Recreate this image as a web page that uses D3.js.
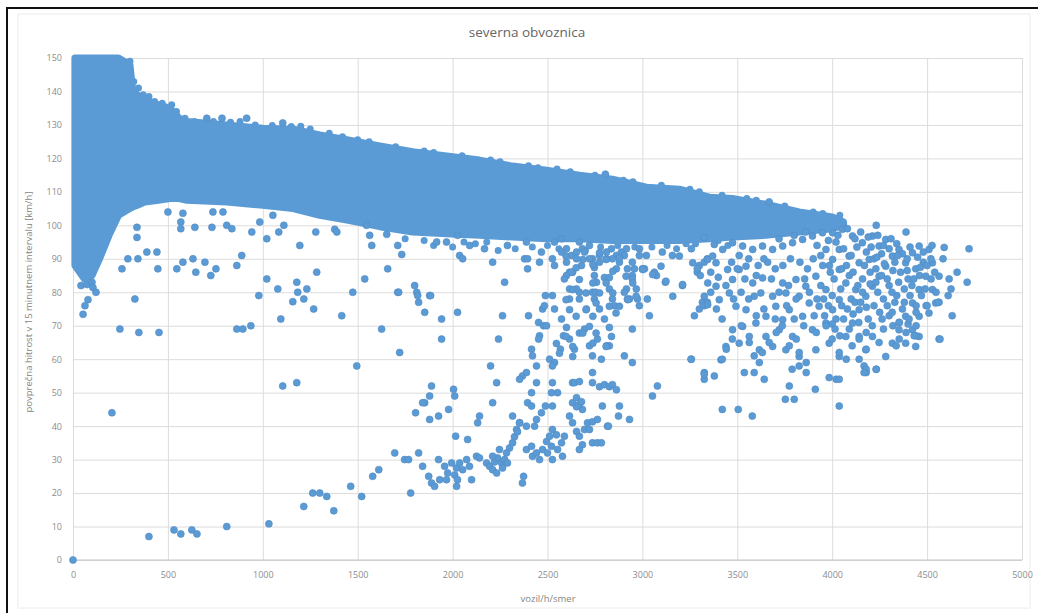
<!DOCTYPE html>
<html><head><meta charset="utf-8">
<script src="https://cdn.jsdelivr.net/npm/d3@7/dist/d3.min.js"></script>
<style>body{margin:0;background:#fff}svg{display:block}</style>
</head><body>
<svg id="c" width="1038" height="613"></svg>
<script>
const title = "severna obvoznica";
const xTitle = "vozil/h/smer";
const yTitle = "povprečna hitrost v 15 minutnem intervalu [km/h]";
const xTicks = [0,500,1000,1500,2000,2500,3000,3500,4000,4500,5000];
const yTicks = [0,10,20,30,40,50,60,70,80,90,100,110,120,130,140,150];

// envelope of the saturated (solid) core of the point cloud
const bandX     = [10, 60, 100, 140, 190, 240, 300, 315, 340, 380, 450, 510, 560, 600, 810, 1000, 1160, 1300, 1450, 1616, 1790, 1968, 2142, 2316, 2495, 2668, 2842, 3021, 3195, 3353, 3474, 3650, 3826, 4000, 4060];
const bandUpper = [150,150, 150, 150, 150, 150, 148, 140, 139, 137.5,136, 135, 132, 131, 130, 129, 128.7, 127, 125.5, 123.7, 122, 120.7, 119.5, 117.7, 116.5, 115, 113.8, 111.4, 110.8, 108.4, 108, 106.3, 104, 102.5, 101];
const bandLower = [88, 84, 85, 90, 97, 103, 105, 105.5, 106, 107, 107.5, 108, 108, 107.5, 107, 106, 105, 103, 101.5, 99.6, 98, 97.5, 97, 96.5, 96, 96, 95.5, 95.5, 95.5, 96, 96.5, 97, 98, 99, 100];

// points sticking out of the solid core's edges
const edgePoints = [[300,149],[320,143],[345,141],[370,139],[400,138.5],[430,137],[470,136.5],[520,136],[545,134],[590,132],[640,131],[690,130.5],[740,131],[830,130.8],[880,131],[960,130],[1050,129.8],[1150,129.5],[1200,129.6],[1250,128.8],[1350,127.5],[1420,126.5],[1500,125.6],[1560,125],[1700,123.5],[1850,122.2],[1900,121.8],[2050,120.8],[2200,119.5],[2250,119],[2400,117.8],[2450,117.2],[2550,116.8],[2620,116],[2750,115],[2900,113.5],[2950,113],[3100,112],[3250,110.8],[3300,110],[3420,109],[3550,108],[3600,107.5],[3750,105.8],[3900,104],[3950,103.5],[4040,103],
[1750,96],[1850,95.5],[1900,94],[2000,93.5],[2060,95],[2120,94.5],[2180,95],[2240,92.5],[2330,93],[2420,93.5],[2500,94],[2560,93],[2700,92.5],[2780,93.5],[2870,94],[2960,93.5],[3050,93.5],[3130,94],[3180,93],[3230,94.5],[3280,94.5],[3400,95.5],[3450,94]];

const leftPoints = [[42,82],[74,82.3],[100,83],[105,81.4],[121,80],[79,77.8],[63,76],[53,73.4],[326,78],[247,69],[347,68],[453,68],[205,44],[0,0],[400,7],[532,9],[568,7.8],[626,9],[653,7.8],[810,10],[1032,10.8],[863,69],[895,69],[937,70],[979,79],[1021,84],[1079,81],[1179,83],[1184,80],[1158,77.2],[1216,78],[1232,81],[1268,75],[1095,72],[1105,52],[1179,53],[1416,73],[1474,80],[1537,84],[1495,58],[1626,69],[1711,80],[1721,62],[1695,32],[1611,27],[1579,25],[1463,22],[1521,19],[1263,20],[1300,20],[1337,19],[1374,14.7],[1216,16],
[500,104],[579,103.6],[568,101],[568,99],[642,99.4],[732,99.4],[737,104],[790,104],[810,100],[837,99],[942,98],[984,101],[1053,103],[1084,98],[1111,100],[1021,96],[1195,94],[1279,98],[1379,98.8],[1390,98],[1547,100],[1563,97],[1574,94],[1653,97.3],[1658,87],[337,99.4],[337,96.4],[389,92],[442,92],[289,90],[342,90],[258,87],[447,87],[547,87],[579,89],[632,90],[647,86],[695,89],[753,87],[726,85],[863,88],[889,91],[1284,86],[705,132],[785,132],[915,132],[1105,130.6],[2805,115.3],[3668,107]];

const midPoints = [[1711,94],[1732,91.3],[1716,80],[1800,82],[1811,80],[1821,77],[1879,79],[1916,95],[1968,95],[2037,91],[2053,90],[2090,94],[2026,97],[2168,93],[2211,89],[2274,83],[2289,94],[2389,95],[2379,90],[2395,90],[2395,87],[2468,92],[2458,89],[2489,79],[2526,90],[2537,88],[2537,95],[2574,96],[2600,93],[2626,91],[2653,92],[2616,86],[2632,86],[2600,85],[2668,95],[2684,93],[2721,94],[2737,90],[2774,89],[2811,90],[2747,85],[2758,83],[2800,84.4],[2826,84.4],[2837,93],[2863,91],[2889,92],[2916,93],[2668,80],[2653,81],[2737,80],[2826,81],[2842,78],[2916,81],[2921,78],[2947,89],[2958,87],[2947,85],[3000,87],[3063,86],[3074,85],[2984,93],[3021,91],[3105,92],[3158,91],[3121,83],[3211,82],[3258,93],[3289,86],[3300,88],[3326,89],[3342,90],[3316,77],[3342,77],[2974,78],[2616,78],
[1816,79],[1853,74],[1884,79],[1942,72],[1942,66],[2026,74],[2263,73],[2400,73],[2242,66],[2474,75],[2453,71],[2479,70],[2495,70],[2458,67],[2453,66],[2416,63],[2421,61],[2442,58],[2511,60],[2537,59],[2526,58],[2368,55],[2353,54],[2389,56],[2200,58],[2232,53],[2442,53],[2526,53],[2416,50],[2395,47],[2416,46],[2521,50],[2553,50],[2489,46],[2526,46],[2468,44],[2442,42],[2432,40],[2389,40],[2353,41],[2337,39],[2316,43],[2211,47],[2142,43],[2132,41],[1889,52],[1879,49],[1853,47],[1842,47],[1805,44],[1926,43],[1879,42],[1979,45],[2005,51],[2011,49],[2016,37],[2079,36],[1747,30],[1768,30],[1821,32],[1842,28],[1926,30],[1874,25],[1889,23],[1905,22],[1779,20],
[1958,28],[1974,26],[1995,29],[2021,27.5],[2037,29],[2011,25.4],[2026,24],[2021,22],[2053,27],[2074,30],[2089,28],[2100,24],[2126,31],[2142,30.5],[1932,24],[1968,24],
[2179,29],[2195,28],[2211,27],[2221,29.3],[2237,30.5],[2258,29],[2263,27.5],[2232,26],[2284,32],[2300,33.5],[2316,35],[2326,36.8],[2342,38.3],[2353,41],[2274,30],[2289,29],[2247,33],[2211,31],[2374,25],[2368,23],
[2389,33],[2416,34],[2421,31],[2442,32],[2458,30],[2474,33],[2495,35.4],[2511,37],[2521,34],[2526,39],[2547,37.4],[2553,33],[2574,35],[2579,31],[2589,37],[2526,30],[2500,32],
[2616,43],[2632,41],[2653,38.4],[2668,37],[2684,34.4],[2668,33],[2695,39],[2711,41],[2737,35],[2763,35],[2784,35],[2721,39],[2737,41.3],[2763,42],[2816,40],[2684,45],[2668,46.4],[2632,47],[2653,45.8],[2632,53],[2642,53],[2668,53.3],[2653,48.5],[2679,47.3],[2737,53],[2774,51.8],[2800,52.4],[2826,51.8],[2842,52.4],[2863,50.9],[2789,46],[2879,46],[2874,43],[2932,42],[2821,40],[2737,56],[2784,60],[2826,64],[2811,64],[2905,61],[2947,59],[3053,49],[3079,52],[3258,60],[3326,56],[3326,54],[2947,69],[3037,73],[3274,73],[3300,75],[3326,76],[3289,87],[3305,85],
[2574,92],[2600,89],[2626,86],[2653,90],[2679,88],[2695,92],[2721,90],[2747,87.4],[2774,91],[2811,92],[2842,90],[2863,87],[2879,89],[2905,91],[2921,87],[2947,84],[2984,91],[3011,87],[2589,84],[2616,81],[2668,78],[2705,75],[2747,78],[2774,75],[2800,72],[2826,69.5],[2837,66.8],[2853,76],[2905,80],[2932,78],[2968,81],[2984,76],[3026,78],[2537,75],[2574,72],[2600,69.5],[2616,66],[2642,63],[2695,69],[2721,64],[2737,61],[2763,66],[2526,79],[2484,76],[2568,63],[2547,64.7],[2584,67],[2753,80],
[2598,90.8],[2651,87.3],[2686,89.8],[2739,88.3],[2774,91.8],[2809,89.8],[2844,86.3],[2879,90.3],[2914,84.8],[2949,82.8],[2967,78.8],[2923,77.8],[2844,79.8],[2826,75.8],[2861,73.8],[2756,76.8],[2739,72.8],[2703,74.8],[2721,69.8],[2756,67.8],[2739,64.8],[2809,63.8],[2668,67.8],[2633,63.8],[2598,66.8],[2563,61.8],[2633,60.8],[2686,67.8],[2651,72.8],[2616,74.8],[2598,77.8],[2633,80.8],[2668,83.8],[2703,79.8],[2774,79.8],[2739,82.8],[2809,82.8],[2879,75.8],
[3002,86.8],[3054,85.3],[3098,87.8],[3124,83.3],[3212,82.3],[3256,60],[3160,78.8],[3195,90.8],[3265,88.8]];

const rightPoints = [[3326,96.3],[3379,94.3],[3344,89.8],[3388,88.8],[3449,86.8],[3475,83.8],[3344,82.8],[3388,81.8],[3326,78.8],[3344,76.3],[3405,77.8],[3458,79.8],[3510,86.8],[3546,87.8],[3493,75.8],[3546,74.8],[3589,78.8],[3581,82.8],[3633,84.3],[3624,79.8],[3686,78.8],[3703,75.8],[3651,72.8],[3598,70.8],[3528,69.8],[3475,68.8],[3440,63.8],[3414,59.8],[3510,64.8],[3563,66.8],[3616,62.8],[3651,66.8],[3739,71.8],[3774,74.8],[3721,68.8],[3686,63.8],[3756,62.8],[3791,66.8],[3844,72.8],[3879,76.8],[3826,78.8],[3756,79.8],[3739,82.8],[3809,83.8],[3861,81.8],[3914,84.8],[3967,80.8],[3931,75.8],[3896,68.8],[3967,70.8],[4002,74.8],[4037,77.8],[3826,60.8],[3914,62.8],[3984,64.8],[4037,60.8],[4072,66.8],[4107,70.8],[4142,74.8],[4177,78.8],[4212,81.8],[4247,84.8],[4282,87.8],[4317,90.8],[4352,92.8],[4387,88.8],[4423,91.8],[4458,93.8],[4510,92.8],[4528,88.8],[4493,84.8],[4458,80.8],[4423,76.8],[4387,72.8],[4352,68.8],[4317,64.8],[4282,60.8],[4212,66.8],[4177,62.8],[4142,66.8],[4124,80.8],[4072,82.8],[4037,86.8],[4002,89.8],[3967,92.8],[4037,92.8],[4089,90.8],[4142,88.8],[4195,89.8],[4247,93.8],[4282,95.8],[4212,96.8],[4159,94.8],[4107,96.8],[4054,98.8],[4002,97.8],[3949,97.8],[3896,96.8],[3844,95.8],[3791,94.8],[3739,93.8],[3686,92.8],[3633,93.8],[3581,92.8],[3528,93.8],[3475,94.8],[3423,92.8],[3370,90.8],[4528,80.8],[4545,76.8],[4510,73.8],[4458,72.8],[4423,68.8],[4387,64.8],[4563,84.8],[4458,66.8],[4440,63.8],
[4020,95],[4060,93],[4100,91],[4130,93.5],[4180,92],[4220,90],[4260,91.5],[4300,93],[4330,89],[4360,86],[4400,84],[4440,87],[4480,89],[4050,87],[4090,85],[4160,84],[4200,86],[4240,80],[4270,78],[4300,82],[4340,79],[4380,81],[4410,79],[4100,78],[4060,72],[4000,79],[3950,88],[3900,90],[3870,87],[3830,89],[3780,90],[3740,88],[3700,87],[3660,89],[3610,88],[3560,90],[3510,91],[3470,89],[4250,74],[4190,72],[4320,70],[4400,70.5],[4470,79],[4500,88],
[3720,96],[3800,97],[3860,98],[3920,94],[3980,95.5],[4030,97],[4080,99],[4120,96],[4150,98],[4190,96.5],[4240,97],[4270,94],[4310,96],[4340,94.5],[4370,91.5],[4410,93.5],[4450,90.5],[4480,92],[4520,90],[4540,86],[3990,86],[3940,82],[3880,80],[3920,78],[3980,76],[4020,72],[4080,75],[4120,77],[4160,80],[4200,82.5],[4230,87],[4260,85],[4290,84],[4320,86.5],[4350,83],[4380,77],[4420,82],[4460,85],[4490,81],[4370,75],[4330,77],[4300,73],[4270,69],[4220,76],[4180,75.5],[4140,71],[4090,69],[4040,67],[4000,70.5],[3960,73],[3850,70],[3800,72],[3760,76],[3700,72],[3640,75],[3600,73],[3560,78],[3520,80],[3480,78],[3440,82],[3400,84.5],[3360,86],[3420,72],[3390,75],[3360,80],
[3940,91],[3985,88],[4010,84],[4045,81],[4075,88],[4110,86],[4135,82],[4170,88],[4205,93.5],[4235,90.5],[4275,88.5],[4315,80],[4345,91],[4395,90],[4430,84],[4465,87.5],[4395,86.5],[4290,76],[4230,83],[4150,77],[4110,73.5],[4050,76],[4015,69],[3955,78],[3905,73],[3855,84],[3810,78],[3770,82],[3720,80],[3680,84],[3640,90],[3600,85],[3540,84],[3500,87],
[3421,45],[3505,45],[3579,43],[3753,48],[3800,48],[3774,52],[3911,51],[4037,46],[3984,54.5],[4021,54],[4037,54],[4179,56],[4232,57],[4168,58],[3642,54],[3589,56],[3537,56],[3379,55],[3326,55.5],
[3421,60],[3442,63],[3474,66],[3521,70],[3563,65],[3589,61],[3616,59],[3632,62],[3668,65],[3705,68],[3737,70],[3774,64],[3811,66],[3826,62],[3863,59],[3863,56],[3789,57],[3826,58],[3916,68],[3968,70],[4000,66],[4037,62],[4074,60],[4105,64],[4142,66],[4179,68],[4211,70],[4263,72],[4316,74],[4353,71],[4405,72],[4442,74],[4495,76],[4563,77],[4563,66],[4442,67],[4389,68],[4353,66],[4247,65],[4179,63],[4142,60],[4179,57],
[4232,100],[4389,98],[4590,93.4],[4721,93],[4584,90],[4658,86],[4616,84],[4711,83],[4626,81],[4611,79],[4558,77],[4547,80],[4632,73],[4568,66],[4521,84],[4526,94],[4500,76],[4442,76],[4353,71],[4442,70],[4432,67],[4232,57],[4168,56],[4337,64]];

const svg = d3.select("#c");
const x = d3.scaleLinear().domain([0,5000]).range([73,1022]);
const y = d3.scaleLinear().domain([0,150]).range([560,58]);
const blue = "#5b9bd5";
const font = "'Open Sans', 'Liberation Sans', sans-serif";

// outer frame (top/left visible)
svg.append("rect").attr("x",18).attr("y",14).attr("width",1012).attr("height",594)
  .attr("fill","none").attr("stroke","#ececec").attr("stroke-width",1);
svg.append("line").attr("x1",6).attr("x2",1038).attr("y1",8).attr("y2",8).attr("stroke","#111").attr("stroke-width",2);
svg.append("line").attr("x1",7).attr("x2",7).attr("y1",7).attr("y2",613).attr("stroke","#111").attr("stroke-width",2);

// gridlines via axes
const gx = svg.append("g").attr("transform","translate(0,560)")
  .call(d3.axisBottom(x).tickValues(xTicks).tickSize(-(560-58)).tickFormat(d=>d).tickPadding(12));
gx.select(".domain").remove();
gx.selectAll(".tick line").attr("stroke","#dcdcdc").attr("stroke-width",1);
gx.selectAll(".tick text").attr("fill","#8c8c8c").attr("font-size","9px").attr("font-family",font);

const gy = svg.append("g").attr("transform","translate(73,0)")
  .call(d3.axisLeft(y).tickValues(yTicks).tickSize(-(1022-73)).tickFormat(d=>d).tickPadding(11));
gy.select(".domain").remove();
gy.selectAll(".tick line").attr("stroke","#dcdcdc").attr("stroke-width",1);
gy.selectAll(".tick text").attr("fill","#8c8c8c").attr("font-size","9px").attr("font-family",font);

svg.append("line").attr("x1",73).attr("x2",1022).attr("y1",560).attr("y2",560).attr("stroke","#c4c4c4").attr("stroke-width",1);

// solid core of the point cloud
const band = bandX.map((v,i)=>({x:v,lo:bandLower[i],hi:bandUpper[i]}));
const area = d3.area().x(d=>x(d.x)).y0(d=>y(d.lo)).y1(d=>y(d.hi)).curve(d3.curveLinear);
svg.append("path").datum(band).attr("d",area).attr("fill",blue)
  .attr("stroke",blue).attr("stroke-width",7).attr("stroke-linejoin","round");

// individual points
svg.append("g").selectAll("circle").data(edgePoints).join("circle")
  .attr("cx",d=>x(d[0])).attr("cy",d=>y(d[1])).attr("r",3.5).attr("fill",blue);
const pts = leftPoints.concat(midPoints, rightPoints);
svg.append("g").selectAll("circle").data(pts).join("circle")
  .attr("cx",d=>x(d[0])).attr("cy",d=>y(d[1])).attr("r",3.5)
  .attr("fill",blue).attr("stroke","#5089c2").attr("stroke-width",0.6);

// texts
svg.append("text").attr("x",527).attr("y",37).attr("text-anchor","middle")
  .attr("font-family",font).attr("font-size","13.5px").attr("fill","#666").text(title);
svg.append("text").attr("x",548).attr("y",602).attr("text-anchor","middle")
  .attr("font-family",font).attr("font-size","9.5px").attr("fill","#858585").text(xTitle);
svg.append("text").attr("transform","translate(32,302) rotate(-90)").attr("text-anchor","middle")
  .attr("font-family",font).attr("font-size","9.5px").attr("fill","#858585").text(yTitle);
</script>
</body></html>
